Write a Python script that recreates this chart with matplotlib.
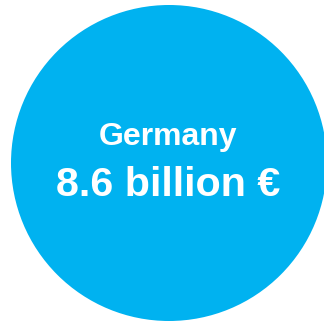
import matplotlib
matplotlib.use('Agg')
import matplotlib.pyplot as plt
from matplotlib.patches import Circle

# data
country = "Germany"
amount = 8.6
unit = "billion €"

circle_color = '#00B2F0'

fig = plt.figure(figsize=(3.24, 3.24), dpi=100)
ax = fig.add_axes([0, 0, 1, 1])
ax.set_xlim(0, 324)
ax.set_ylim(324, 0)
ax.axis('off')

ax.add_patch(Circle((169, 163), 158, color=circle_color, lw=0))

ax.text(168, 145.5, country, ha='center', va='baseline', color='white',
        fontsize=23, fontweight='bold', family='Liberation Sans')
ax.text(168.5, 196, f'{amount} {unit}', ha='center', va='baseline', color='white',
        fontsize=29.7, fontweight='bold', family='Liberation Sans')

fig.savefig('out.png', dpi=100)
